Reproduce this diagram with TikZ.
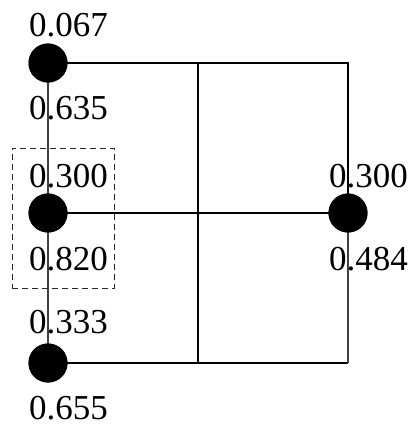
\documentclass[tikz,border=0pt]{standalone}
\usepackage{fontspec}
\setmainfont{Liberation Serif}
\begin{document}
\begin{tikzpicture}[x=1pt,y=-1pt,
  dot/.style={circle,fill=black,draw=none,minimum size=39pt,inner sep=0pt},
  lbl/.style={anchor=base west,inner sep=0pt,text depth=0pt,font=\fontsize{35}{40}\selectfont},
  wire/.style={line width=1.2pt,black},
  box/.style={line width=0.9pt,black!85,dash pattern=on 6pt off 4pt}]
\useasboundingbox (0,0) rectangle (418,425);
% coordinates
\coordinate (tm) at (198,63);
\coordinate (tr) at (348,63);
\coordinate (mm) at (198,213);
\coordinate (bm) at (198,363);
\coordinate (br) at (348,363);
% dots
\node[dot] (a) at (48,63) {};
\node[dot] (b) at (48,213) {};
\node[dot] (c) at (48,363) {};
\node[dot] (d) at (348,213) {};
% wires
\draw[wire] (a.center) -- (tr) -- (d.center);
\draw[wire,black!75] (a.center) -- (b.center) -- (c.center);
\draw[wire] (b.center) -- (d.center);
\draw[wire] (c.center) -- (br);
\draw[wire,black!75] (d.center) -- (br);
\draw[wire] (tm) -- (mm) -- (bm);
% redraw dots on top
\node[dot] at (a) {};
\node[dot] at (b) {};
\node[dot] at (c) {};
\node[dot] at (d) {};
% dashed box
\node[draw,box,minimum width=102pt,minimum height=140pt,inner sep=0pt] (sel) at (63,218) {};
% labels
\node[lbl] (l1) at (29,37) {0.067};
\node[lbl] (l2) at (29,120) {0.635};
\node[lbl] (l3) at (29,187) {0.300};
\node[lbl] (l4) at (29,270) {0.820};
\node[lbl] (l5) at (29,333) {0.333};
\node[lbl] (l6) at (29,419) {0.655};
\node[lbl] (l7) at (329,187) {0.300};
\node[lbl] (l8) at (329,270) {0.484};
\end{tikzpicture}
\end{document}
